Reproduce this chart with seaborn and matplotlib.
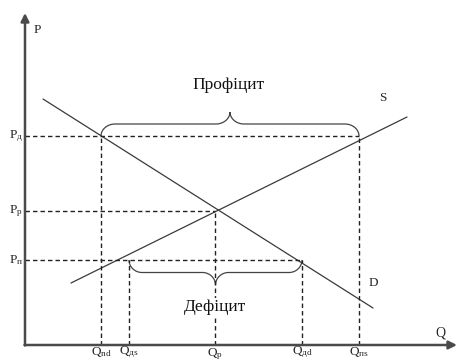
import numpy as np
import matplotlib
matplotlib.use('Agg')
import matplotlib.pyplot as plt
from matplotlib.path import Path
from matplotlib.patches import PathPatch
import seaborn as sns
import pandas as pd

# market values (Q in tens of units, P in tens of units)
demand_q = [1.8, 34.8]
demand_p = [24.6, 3.7]
supply_q = [4.6, 38.2]
supply_p = [6.2, 22.8]

price_names = ['д', 'р', 'п']
price_vals = [20.9, 13.4, 8.5]

qty_names = ['nd', 'дs', 'р', 'дd', 'пs']
qty_vals = [7.6, 10.4, 19.0, 27.7, 33.4]

sns.set_theme(style='white')
plt.rcParams['font.family'] = ['Liberation Serif', 'DejaVu Serif']
plt.rcParams['mathtext.fontset'] = 'custom'
plt.rcParams['mathtext.rm'] = 'Liberation Serif'
plt.rcParams['mathtext.it'] = 'Liberation Serif:italic'

fig = plt.figure(figsize=(4.58, 3.61), dpi=100)
ax = fig.add_axes([0, 0, 1, 1])
ax.set_xlim(-2.5, 43.3)
ax.set_ylim(-1.6, 34.5)
ax.axis('off')

line_col = '#3a3a3a'
df = pd.DataFrame({'Q': demand_q + supply_q, 'P': demand_p + supply_p,
                   'curve': ['D', 'D', 'S', 'S']})
sns.lineplot(data=df, x='Q', y='P', units='curve', estimator=None, sort=False,
             color=line_col, lw=0.9, ax=ax, legend=False)

# axes with arrows
ax.annotate('', xy=(0, 33.2), xytext=(0, -0.05),
            arrowprops=dict(arrowstyle='-|>', color='#4a4a4a', lw=1.8, mutation_scale=12, shrinkA=0, shrinkB=0))
ax.annotate('', xy=(43.2, 0), xytext=(-0.05, 0),
            arrowprops=dict(arrowstyle='-|>', color='#4a4a4a', lw=1.8, mutation_scale=12, shrinkA=0, shrinkB=0))

dash = dict(color='#222222', lw=1.0, ls=(0, (3.2, 2.2)))
p_hi, p_eq, p_lo = price_vals
q_nd, q_ds, q_eq, q_dd, q_ns = qty_vals
ax.plot([0, q_ns], [p_hi, p_hi], **dash)
ax.plot([q_nd, q_nd], [0, p_hi], **dash)
ax.plot([q_ns, q_ns], [0, p_hi], **dash)
ax.plot([0, q_eq], [p_eq, p_eq], **dash)
ax.plot([q_eq, q_eq], [0, p_eq], **dash)
ax.plot([0, q_dd], [p_lo, p_lo], **dash)
ax.plot([q_ds, q_ds], [0, p_lo], **dash)
ax.plot([q_dd, q_dd], [0, p_lo], **dash)


def brace(x0, x1, y0, h, r):
    xm = (x0 + x1) / 2
    verts = [(x0, y0),
             (x0, y0 + 0.55 * h), (x0 + 0.45 * r, y0 + h), (x0 + r, y0 + h),
             (xm - r, y0 + h),
             (xm - 0.45 * r, y0 + h), (xm, y0 + 1.45 * h), (xm, y0 + 2 * h),
             (xm, y0 + 1.45 * h), (xm + 0.45 * r, y0 + h), (xm + r, y0 + h),
             (x1 - r, y0 + h),
             (x1 - 0.45 * r, y0 + h), (x1, y0 + 0.55 * h), (x1, y0)]
    codes = [Path.MOVETO] + [Path.CURVE4] * 3 + [Path.LINETO] + [Path.CURVE4] * 6 + \
            [Path.LINETO] + [Path.CURVE4] * 3
    return PathPatch(Path(verts, codes), fill=False, ec='#444444', lw=0.9)


ax.add_patch(brace(q_nd, q_ns, p_hi, 1.2, 1.4))
ax.add_patch(brace(q_ds, q_dd, p_lo, -1.25, 1.3))

ax.text(20.4, 26.0, 'Профіцит', ha='center', va='center', fontsize=12.5, color='#111111')
ax.text(19.0, 3.8, 'Дефіцит', ha='center', va='center', fontsize=12.5, color='#111111',
        bbox=dict(fc='white', ec='none', pad=0.5))

ax.text(1.2, 31.5, 'P', ha='center', va='center', fontsize=9.5)
ax.text(41.5, 1.2, 'Q', ha='center', va='center', fontsize=10)
ax.text(35.8, 24.7, 'S', ha='center', va='center', fontsize=9.5)
ax.text(34.8, 6.2, 'D', ha='center', va='center', fontsize=9.5)

for name, val in zip(price_names, price_vals):
    ax.text(-0.2, val, r'$\mathrm{P_{' + name + '}}$', ha='right', va='center', fontsize=9.5)

for name, val in zip(qty_names, qty_vals):
    y = -0.95 if name == 'р' else -0.7
    ax.text(val, y, r'$\mathrm{Q_{' + name + '}}$', ha='center', va='center', fontsize=9.5)

fig.savefig('out.png', dpi=100)
